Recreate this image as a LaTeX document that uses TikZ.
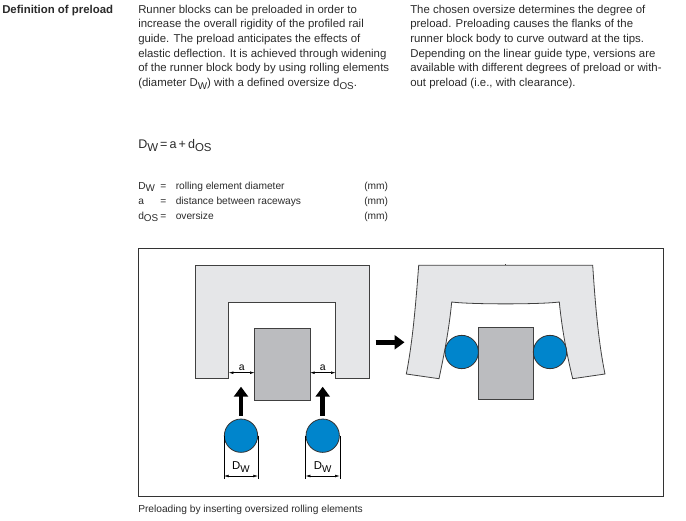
\documentclass[tikz,border=0pt]{standalone}
\usepackage{fontspec}
\setmainfont{Liberation Sans}
\usetikzlibrary{arrows.meta}
\definecolor{blockgray}{HTML}{E5E6E8}
\definecolor{railgray}{HTML}{BBBCBF}
\definecolor{ballblue}{HTML}{0085CC}
\definecolor{inkgray}{HTML}{2A2A2A}
\newcommand{\lowidx}[2][7.4]{\raisebox{-.5ex}{\fontsize{#1}{8}\selectfont #2}}
\begin{document}
\begin{tikzpicture}[x=.75pt, y=-.75pt,
    bodytext/.style={anchor=north west, inner sep=0pt, align=left, text=inkgray, font=\fontsize{8.55}{11.05}\selectfont},
    smalltext/.style={anchor=base west, inner sep=0pt, text=inkgray, font=\fontsize{7.65}{9}\selectfont},
    blockline/.style={draw=black!75, line width=.6pt, fill=blockgray},
    rail/.style={draw=black!75, line width=.6pt, fill=railgray, minimum width=41.4pt, minimum height=54pt, inner sep=0pt},
    ball/.style={circle, draw=black!80, line width=.6pt, fill=ballblue, minimum size=25pt, inner sep=0pt},
    bigarrow/.style={line width=3.6pt, -{Triangle[length=7.5pt, width=10.5pt]}},
    dimline/.style={line width=.4pt, {Latex[length=3.5pt, width=2pt]}-{Latex[length=3.5pt, width=2pt]}}]
    \useasboundingbox (0,0) rectangle (686,521);

    \node[anchor=base west, inner sep=0pt, text=inkgray, font=\fontsize{8.55}{11}\bfseries\selectfont] (title) at (2,13) {Definition of preload};
    \node[bodytext] (textleft) at (138,4.5) {Runner blocks can be preloaded in order to\\increase the overall rigidity of the profiled rail\\guide. The preload anticipates the effects of\\elastic deflection. It is achieved through widening\\of the runner block body by using rolling elements\\(diameter D\lowidx{W}) with a defined oversize d\lowidx{OS}.};
    \node[bodytext] (textright) at (410,4.5) {The chosen oversize determines the degree of\\preload. Preloading causes the flanks of the\\runner block body to curve outward at the tips.\\Depending on the linear guide type, versions are\\available with different degrees of preload or with-\\out preload (i.e., with clearance).};

    \node[anchor=base west, inner sep=0pt, text=inkgray, font=\fontsize{9.4}{11}\selectfont] (formula) at (138,148) {D\lowidx[8.6]{W}\,=\,a\,+\,d\lowidx[8.6]{OS}};

    \node[smalltext] (symd) at (138,189) {D\lowidx{W}};
    \node[smalltext] (eqd) at (160,189) {=};
    \node[smalltext] (txtd) at (175.5,189) {rolling element diameter};
    \node[smalltext] (unitd) at (364,189) {(mm)};
    \node[smalltext] (syma) at (138,204) {a};
    \node[smalltext] (eqa) at (160,204) {=};
    \node[smalltext] (txta) at (175.5,204) {distance between raceways};
    \node[smalltext] (unita) at (364,204) {(mm)};
    \node[smalltext] (symo) at (138,219) {d\lowidx{OS}};
    \node[smalltext] (eqo) at (160,219) {=};
    \node[smalltext] (txto) at (175.5,219) {oversize};
    \node[smalltext] (unito) at (364,219) {(mm)};

    \draw[black!80, line width=.7pt] (138,248) rectangle (663,496);
    \node[smalltext] (caption) at (138,512) {Preloading by inserting oversized rolling elements};

    % left: block before preload
    \draw[blockline] (195.3,378.7) -- (195.3,265.7) -- (369.3,265.7) -- (369.3,378.7) -- (335.7,378.7) -- (335.7,302) -- (228.7,302) -- (228.7,378.7) -- cycle;
    \node[rail] (railleft) at (282.4,364) {};
    \node[ball] (balla) at (241,435.7) {};
    \node[ball] (ballb) at (322.7,435.7) {};

    \coordinate (upa) at (241,415.7);
    \coordinate (upatip) at (241,386.7);
    \coordinate (upb) at (322.7,415.7);
    \coordinate (upbtip) at (322.7,386.7);
    \draw[bigarrow] (upa) -- (upatip);
    \draw[bigarrow] (upb) -- (upbtip);

    \coordinate (gapa) at (228.7,372.7);
    \coordinate (gapb) at (254.7,372.7);
    \coordinate (gapc) at (310,372.7);
    \coordinate (gapd) at (335.7,372.7);
    \draw[dimline] (gapa) -- node[above=1.5pt, inner sep=0pt, font=\fontsize{7.8}{9}\selectfont] (labela) {a} (gapb);
    \draw[dimline] (gapc) -- node[above=1.5pt, inner sep=0pt, font=\fontsize{7.8}{9}\selectfont] (labelb) {a} (gapd);

    \coordinate (dima) at (balla.west |- 0,476);
    \coordinate (dimb) at (balla.east |- 0,476);
    \coordinate (dimc) at (ballb.west |- 0,476);
    \coordinate (dimd) at (ballb.east |- 0,476);
    \draw[line width=.4pt] (balla.west) -- ++(0,43.5);
    \draw[line width=.4pt] (balla.east) -- ++(0,43.5);
    \draw[line width=.4pt] (ballb.west) -- ++(0,43.5);
    \draw[line width=.4pt] (ballb.east) -- ++(0,43.5);
    \draw[dimline] (dima) -- node[above=2.5pt, inner sep=0pt, font=\fontsize{8.55}{9}\selectfont] (labeld) {D\lowidx{W}} (dimb);
    \draw[dimline] (dimc) -- node[above=2.5pt, inner sep=0pt, font=\fontsize{8.55}{9}\selectfont] (labele) {D\lowidx{W}} (dimd);

    \coordinate (stepstart) at (375.7,342.3);
    \coordinate (stepend) at (404.5,342.3);
    \draw[bigarrow] (stepstart) -- (stepend);

    % right: block after preload
    \draw[blockline] (418.7,265.3) -- (592.7,265.3) .. controls (595,300) and (598,340) .. (605,374) -- (572.7,378.7) .. controls (567,355) and (562,330) .. (559.3,302) .. controls (540,304.5) and (471,304.5) .. (451.7,302) .. controls (449,330) and (444,355) .. (439,378.7) -- (406.3,374) .. controls (413,340) and (416,300) .. (418.7,265.3) -- cycle;
    \draw[black!75, line width=.5pt] (505.5,265.3) -- (505.5,264);
    \node[rail, minimum width=41.2pt] (railright) at (505.8,363.5) {};
    \node[ball] (ballc) at (461.7,352) {};
    \node[ball] (balld) at (550,352) {};
\end{tikzpicture}
\end{document}
